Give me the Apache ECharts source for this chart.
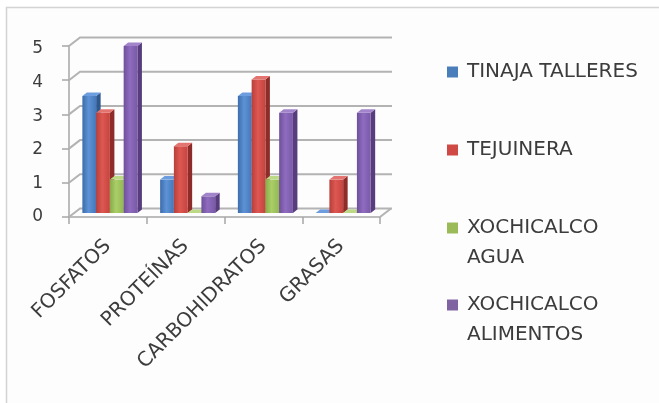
<!DOCTYPE html>
<html>
<head>
<meta charset="utf-8">
<script src="https://cdn.jsdelivr.net/npm/echarts@6/dist/echarts.min.js"></script>
<style>
html,body{margin:0;padding:0;background:#ffffff;}
#chart{width:659px;height:403px;}
</style>
</head>
<body>
<div id="chart"></div>
<script>
// ---- data ----
const categories = ['FOSFATOS', 'PROTEÍNAS', 'CARBOHIDRATOS', 'GRASAS'];
const seriesNames = ['TINAJA TALLERES', 'TEJUINERA', 'XOCHICALCO AGUA', 'XOCHICALCO ALIMENTOS'];
const tinajaTalleres = [3.5, 1, 3.5, 0];
const tejuinera = [3, 2, 4, 1];
const xochicalcoAgua = [1, 0, 1, 0];
const xochicalcoAlimentos = [5, 0.5, 3, 3];
const yTicks = [0, 1, 2, 3, 4, 5];

// ---- styling ----
const FONT = '"DejaVu Sans", "Open Sans", sans-serif';
const TEXT = '#3c3c3c';
const GRIDC = '#b3b3b3';
const DX = 11, DY = 8.5;      // back-wall offset
const D = 4.5, DD = 3.5;      // bar depth
const LEFT_FRAC = 0.172, BAR_FRAC = 0.177;
const palette = [
  {base:'#4a7ebb', g:['#3c6cac','#5d93d6','#4577b9'], side:'#2e5890', top:'#6c9ddf'},
  {base:'#cf4a45', g:['#b83e3a','#de5852','#c6433e'], side:'#8e2c29', top:'#e4746f'},
  {base:'#9bbb59', g:['#88ab49','#aacf68','#93b752'], side:'#6b8936', top:'#bcd985'},
  {base:'#8064a2', g:['#6f4f9b','#8f6cbf','#7a59a8'], side:'#573c7e', top:'#a284cb'}
];
const seriesValues = [tinajaTalleres, tejuinera, xochicalcoAgua, xochicalcoAlimentos];

function makeBarRender(si) {
  return function (params, api) {
    const ci = api.value(0), v = api.value(1);
    const base = api.coord([ci, 0]);
    const top = api.coord([ci, v]);
    const band = api.size([1, 0])[0];
    const bw = band * BAR_FRAC;
    const x = base[0] - band / 2 + band * LEFT_FRAC + si * bw;
    const yT = top[1], yB = base[1];
    const c = palette[si];
    return {
      type: 'group',
      children: [
        {type: 'polygon', shape: {points: [[x + bw, yT], [x + bw + D, yT - DD], [x + bw + D, yB - DD], [x + bw, yB]]},
         style: {fill: c.side}},
        {type: 'rect', shape: {x: x, y: yT, width: bw, height: yB - yT},
         style: {fill: new echarts.graphic.LinearGradient(0, 0, 1, 0, [
           {offset: 0, color: c.g[0]}, {offset: 0.45, color: c.g[1]}, {offset: 1, color: c.g[2]}])}},
        {type: 'polygon', shape: {points: [[x, yT], [x + D, yT - DD], [x + bw + D, yT - DD], [x + bw, yT]]},
         style: {fill: c.top}}
      ]
    };
  };
}

function wallRender(params, api) {
  const v = api.value(1);
  const p = api.coord([0, v]);
  const cs = params.coordSys;
  const x0 = cs.x, x1 = cs.x + cs.width, y = p[1];
  const children = [{
    type: 'polyline',
    shape: {points: [[x0, y], [x0 + DX, y - DY], [x1 + DX + 1, y - DY]]},
    style: {stroke: GRIDC, lineWidth: 2, fill: null}
  }];
  if (v === 0) {
    children.push({type: 'line', shape: {x1: x1, y1: y, x2: x1 + DX, y2: y - DY},
      style: {stroke: GRIDC, lineWidth: 2}});
  }
  return {type: 'group', children: children};
}

const legendTops = [57, 135, 183, 260];
function legendLabel(name) {
  if (name.indexOf('XOCHICALCO ') === 0) return '\n' + name.replace(' ', '\n');
  return name;
}

const chart = echarts.init(document.getElementById('chart'), null, {renderer: 'canvas'});
const series = [{
  type: 'custom', name: 'walls', xAxisIndex: 0, yAxisIndex: 0,
  data: yTicks.map(v => [0, v]), renderItem: wallRender, silent: true, z: 1
}];
seriesValues.forEach((vals, si) => {
  series.push({
    type: 'custom', name: seriesNames[si], xAxisIndex: 1, yAxisIndex: 1,
    data: vals.map((v, j) => [j, v]),
    itemStyle: {color: palette[si].base},
    renderItem: makeBarRender(si), z: 3
  });
});

chart.setOption({
  backgroundColor: '#ffffff',
  animation: false,
  graphic: [{
    type: 'rect', z: -10, silent: true,
    shape: {x: 6.5, y: 7.5, width: 900, height: 600},
    style: {fill: '#fdfdfd', stroke: '#d3d3d3', lineWidth: 1.5}
  }],
  grid: [
    {left: 69, top: 46, width: 311, height: 171},
    {left: 69, top: 46, width: 311, height: 167},
    {left: 69, top: 49, width: 311, height: 168}
  ],
  xAxis: [
    {type: 'category', gridIndex: 0, data: categories,
     axisLine: {show: true, lineStyle: {color: '#a6a6a6', width: 1.5}},
     axisTick: {show: true, length: 7, interval: 0, lineStyle: {color: '#a6a6a6', width: 1.5}},
     axisLabel: {rotate: 45, interval: 0, margin: 26, fontSize: 20, color: TEXT, fontFamily: FONT},
     splitLine: {show: false}},
    {type: 'category', gridIndex: 1, data: categories, show: false},
    {type: 'category', gridIndex: 2, data: categories, show: false}
  ],
  yAxis: [
    {type: 'value', gridIndex: 0, min: 0, max: 5, interval: 1,
     axisLine: {show: true, lineStyle: {color: '#a6a6a6', width: 1.5}},
     axisTick: {show: true, length: 7, lineStyle: {color: '#a6a6a6', width: 1.5}},
     axisLabel: {show: false},
     splitLine: {show: false}},
    {type: 'value', gridIndex: 1, min: 0, max: 5, interval: 1, show: false, splitLine: {show: false}},
    {type: 'value', gridIndex: 2, min: 0, max: 5, interval: 1,
     axisLine: {show: false}, axisTick: {show: false}, splitLine: {show: false},
     axisLabel: {fontSize: 17, color: TEXT, fontFamily: FONT, margin: 26}}
  ],
  legend: seriesNames.map((n, i) => ({
    data: [n], orient: 'vertical', left: 447, top: legendTops[i], padding: 0,
    itemWidth: 11, itemHeight: 11, icon: 'rect', selectedMode: false,
    formatter: legendLabel,
    textStyle: {fontSize: 20, color: TEXT, fontFamily: FONT, lineHeight: 30, padding: [0, 0, 0, 4]}
  })),
  series: series
});
</script>
</body>
</html>
